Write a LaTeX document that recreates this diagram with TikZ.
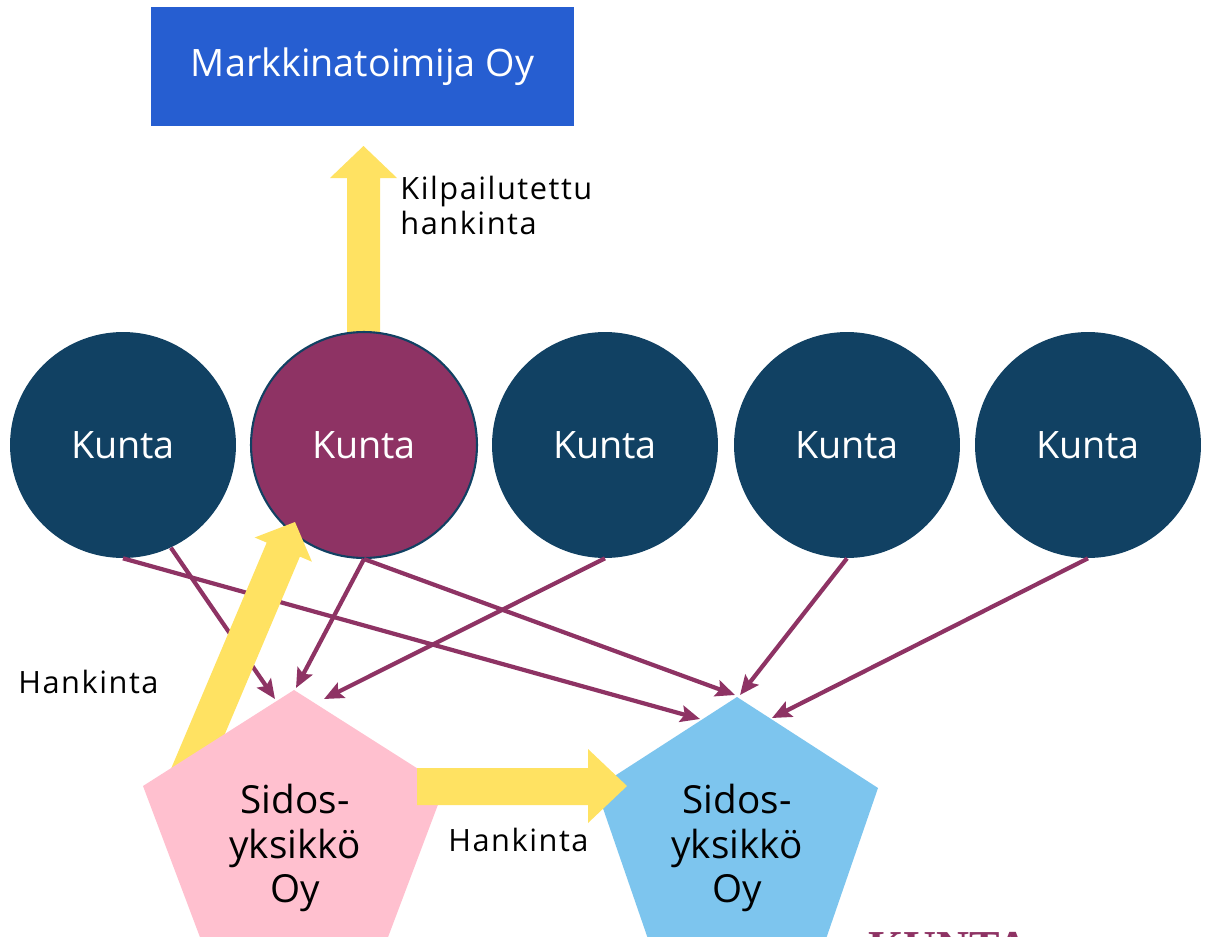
\documentclass[tikz,border=0pt]{standalone}
\usepackage{fontspec}
\setmainfont{Open Sans}
\newfontfamily\smallfont{Open Sans}[LetterSpace=5]
\newfontfamily\logofont{Liberation Serif}
\usetikzlibrary{arrows.meta}
\definecolor{navy}{HTML}{114163}
\definecolor{plum}{HTML}{8E3364}
\definecolor{royal}{HTML}{265ED1}
\definecolor{sun}{HTML}{FFE262}
\definecolor{rose}{HTML}{FFC0CF}
\definecolor{sky}{HTML}{7DC5EE}
\begin{document}
\begin{tikzpicture}[x=0.02cm,y=-0.02cm,
  kunta/.style={circle,fill=navy,minimum size=4.52cm,inner sep=0pt,text=white,font=\fontsize{21.5}{26}\selectfont},
  link/.style={draw=plum,line width=2.4pt,-{Stealth[length=11pt,width=9.5pt,inset=2pt]}},
  fat/.style={fill=sun},
  lbl/.style={font=\smallfont\fontsize{17.5}{20.4}\selectfont,inner sep=0pt,text=black},
  big/.style={font=\fontsize{22}{25.5}\selectfont,align=center,inner sep=0pt,text=black}
]
\useasboundingbox (0,0) rectangle (1208,937);
\fill[white] (0,0) rectangle (1208,937);

% top box
\node[fill=royal,minimum width=8.46cm,minimum height=2.38cm,inner sep=0pt,text=white,
      font=\fontsize{21.5}{26}\selectfont] (mk) at (362.5,66.5) {Markkinatoimija Oy};

% up arrow (Kilpailutettu hankinta)
\fill[fat] (347,345) -- (347,178) -- (330,178) -- (363.5,146) -- (397,178) -- (380,178) -- (380,345) -- cycle;
\node[lbl,align=left,anchor=north west] (kh) at (400,175.3) {Kilpailutettu\\hankinta};

% municipalities
\node[kunta] (k1) at (123,445) {Kunta};
\node[kunta,fill=plum,draw=navy,line width=1.2pt] (k2) at (364,445) {Kunta};
\node[kunta] (k3) at (605,445) {Kunta};
\node[kunta] (k4) at (847,445) {Kunta};
\node[kunta] (k5) at (1088,445) {Kunta};

% arrow end points on the pentagons
\coordinate (p1a) at (275,699);
\coordinate (p1b) at (296,688);
\coordinate (p1c) at (324,699);
\coordinate (p2a) at (700,719);
\coordinate (p2b) at (735,695);
\coordinate (p2c) at (740,695);
\coordinate (p2d) at (772,718);

\draw[link] (k1.south) -- (p2a);
\draw[link] (k1.-65) -- (p1a);
\draw[link] (k2.south) -- (p1b);
\draw[link] (k2.south) -- (p2b);
\draw[link] (k3.south) -- (p1c);
\draw[link] (k4.south) -- (p2c);
\draw[link] (k5.south) -- (p2d);

% diagonal fat arrow (Hankinta)
\fill[fat] (168.4,775) -- (266.7,542.6) -- (254.7,537.5) -- (295,522) -- (311.9,561.7) -- (299.9,556.6) -- (201.6,789) -- cycle;
\node[lbl,anchor=base west] (h1) at (18,693) {Hankinta};

% pentagons
\fill[rose] (294,690) -- (445,786) -- (373,977) -- (215,977) -- (143,786) -- cycle;
\fill[sky] (737,697) -- (878,788) -- (817,965) -- (657,965) -- (596,788) -- cycle;
\node[big] (s1) at (295,848) {Sidos-\\yksikkö\\Oy};
\node[big] (s2) at (737,848) {Sidos-\\yksikkö\\Oy};

% horizontal fat arrow (Hankinta)
\fill[fat] (417,768) -- (588,768) -- (588,749) -- (627,786) -- (588,823) -- (588,805) -- (417,805) -- cycle;
\node[lbl,anchor=base west] (h2) at (448,851) {Hankinta};

% cropped logo at the bottom edge, as in the reference
\node[anchor=north west,inner sep=0pt,text=plum,font=\logofont\bfseries\fontsize{26}{26}\selectfont] (logo) at (868,932) {KUNTA};
\end{tikzpicture}
\end{document}
